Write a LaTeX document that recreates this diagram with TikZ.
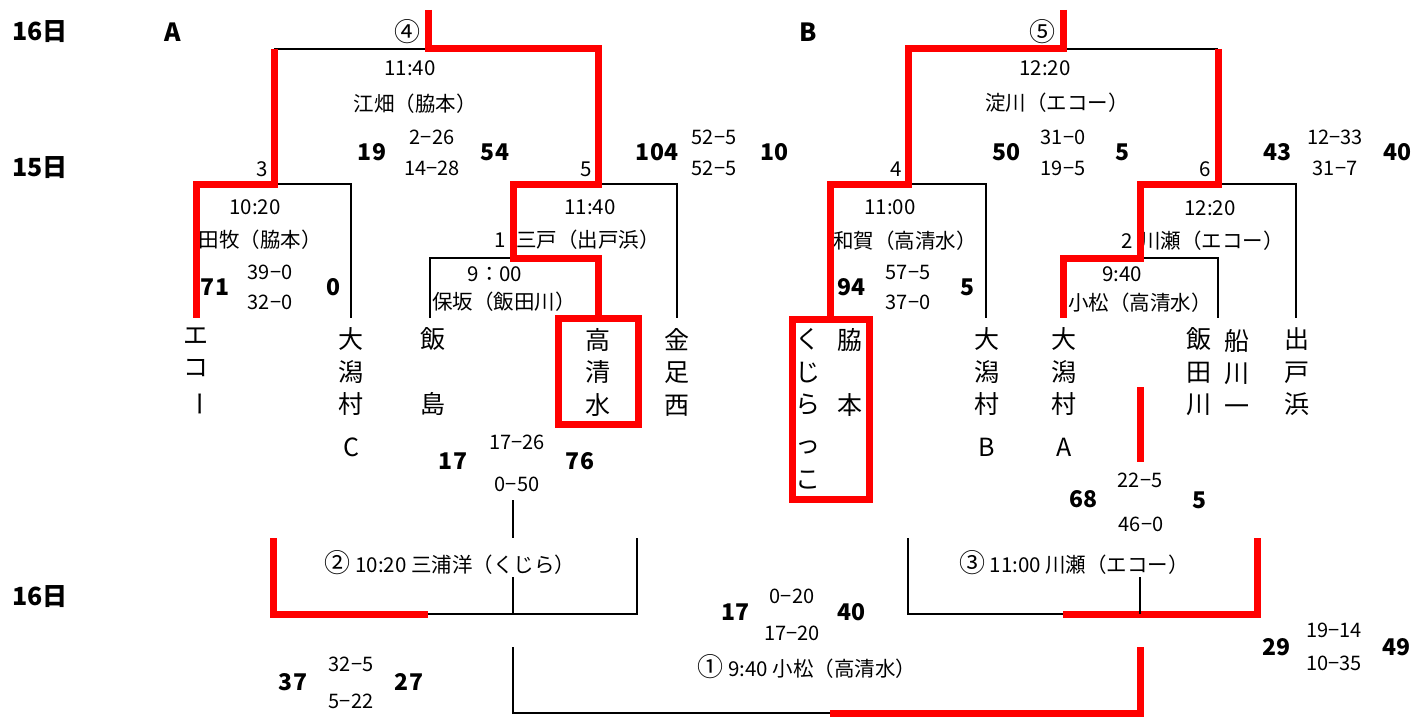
\documentclass[tikz,border=0pt]{standalone}
\usepackage{fontspec}
\setmainfont{Noto Sans CJK JP}
\usetikzlibrary{positioning}

\newcommand{\labfont}{\fontsize{20.5}{22}\selectfont}
\newcommand{\scorefont}{\fontsize{20}{22}\selectfont}
\newcommand{\ptsfont}{\fontsize{23}{25}\selectfont\bfseries}
\newcommand{\teamfont}{\fontsize{25}{32.5}\selectfont}
\newcommand{\dayfont}{\fontsize{25}{27}\selectfont\bfseries}
\newcommand{\tatebar}{\rotatebox[origin=c]{-90}{ー}}
\newcommand{\maru}[1]{{\fontsize{26}{26}\selectfont #1}}

\tikzstyle{line} = [draw,line width=2.2pt]
\tikzstyle{win} = [draw=red,line width=7pt,line join=miter]
\tikzstyle{winbox} = [draw=red,line width=7pt,inner sep=0pt]
\tikzstyle{lab} = [font=\labfont,inner sep=0pt]
\tikzstyle{score} = [font=\scorefont,inner sep=0pt]
\tikzstyle{pts} = [font=\ptsfont,inner sep=0pt]
\tikzstyle{team} = [font=\teamfont,align=center,inner sep=0pt]
\tikzstyle{day} = [font=\dayfont,inner sep=0pt]

\begin{document}
\begin{tikzpicture}[x=1pt,y=-1pt]
\useasboundingbox (0,0) rectangle (1414,717);

% days and blocks
\node[day] (d16a) at (40,32) {16日};
\node[day] (d15) at (40,168) {15日};
\node[day] (d16b) at (40,597) {16日};
\node[day,font=\fontsize{25}{27}\selectfont\bfseries] (blkA) at (173,32) {A};
\node[day,font=\fontsize{25}{27}\selectfont\bfseries] (blkB) at (808,32) {B};

% block A
\node[lab] (rA) at (407,32) {\maru{④}};
\node[lab] (tA) at (410,68) {11:40};
\node[lab] (vA) at (415,104) {江畑（脇本）};
\node[score] (sAa) at (432,137) {2−26};
\node[score] (sAb) at (432,168) {14−28};
\node[pts] (pAl) at (372,152) {19};
\node[pts] (pAr) at (495,152) {54};
\node[lab] (n3) at (262,169) {3};
\node[lab] (n5) at (586,169) {5};
\node[pts] (p5l) at (657,152) {104};
\node[score] (s5a) at (714,137) {52−5};
\node[score] (s5b) at (714,168) {52−5};
\node[pts] (p5r) at (774,152) {10};

\node[lab] (t3) at (255,207) {10:20};
\node[lab] (v3) at (260,240) {田牧（脇本）};
\node[pts] (p3l) at (215,287) {71};
\node[score] (s3a) at (270,272) {39−0};
\node[score] (s3b) at (270,302) {32−0};
\node[pts] (p3r) at (333,287) {0};

\node[lab] (t5) at (590,207) {11:40};
\node[lab] (n1) at (500,240) {1};
\node[lab] (v5) at (588,240) {三戸（出戸浜）};
\node[lab] (t1) at (495,274) {9：00};
\node[lab] (v1) at (504,302) {保坂（飯田川）};

\node[team] (eko) at (196,372) {エ\\コ\\\tatebar};
\node[team] (ogataC) at (351,372) {大\\潟\\村};
\node[team] (cC) at (351,447) {C};
\node[team] (iijima) at (433,372) {飯\\\phantom{飯}\\島};
\node[team] (taka) at (598,372) {高\\清\\水};
\node[team] (kana) at (677,372) {金\\足\\西};
\node[winbox,minimum width=80pt,minimum height=106pt] (takabox) at (598,371) {};

\node[score] (s1a) at (517,442) {17−26};
\node[pts] (p1l) at (453,461) {17};
\node[pts] (p1r) at (580,461) {76};
\node[score] (s1b) at (517,484) {0−50};

\coordinate (atop) at (428,10);
\coordinate (aM) at (428,49);
\coordinate (j3) at (274,184);
\coordinate (j5) at (598,184);
\coordinate (j1) at (513,258);
\coordinate (ekoT) at (196,318);
\coordinate (ogCT) at (351,318);
\coordinate (iiT) at (430,318);
\coordinate (kaT) at (677,318);

\draw[line] (aM) -- (j3 |- aM);
\draw[line] (j3) -| (ogCT);
\draw[line] (j5) -| (kaT);
\draw[line] (j1) -| (iiT);
\draw[win] (j3 |- aM) -- (j3) -| (ekoT);
\draw[win] (atop) -- (aM) -| (j5) -| (j1) -| (takabox.north);

% block B
\node[lab] (rB) at (1042,32) {\maru{⑤}};
\node[lab] (tB) at (1045,68) {12:20};
\node[lab] (vB) at (1057,103) {淀川（エコー）};
\node[score] (sBa) at (1063,137) {31−0};
\node[score] (sBb) at (1063,168) {19−5};
\node[pts] (pBl) at (1006,152) {50};
\node[pts] (pBr) at (1122,152) {5};
\node[lab] (n4) at (896,169) {4};
\node[lab] (n6) at (1205,169) {6};
\node[pts] (p6l) at (1277,152) {43};
\node[score] (s6a) at (1335,137) {12−33};
\node[score] (s6b) at (1335,168) {31−7};
\node[pts] (p6r) at (1397,152) {40};

\node[lab] (t4) at (890,207) {11:00};
\node[lab] (v4) at (905,241) {和賀（高清水）};
\node[pts] (p4l) at (851,287) {94};
\node[score] (s4a) at (908,272) {57−5};
\node[score] (s4b) at (908,302) {37−0};
\node[pts] (p4r) at (967,287) {5};

\node[lab] (t6) at (1210,208) {12:20};
\node[lab] (n2) at (1127,241) {2};
\node[lab] (v6) at (1212,241) {川瀬（エコー）};
\node[lab] (t2) at (1122,274) {9:40};
\node[lab] (v2) at (1140,303) {小松（高清水）};

\node[team] (kujira) at (808,372) {く\\じ\\ら};
\node[team] (kujira2) at (808,447) {っ};
\node[team] (kujira3) at (808,480) {こ};
\node[team] (waki) at (850,372) {脇\\\phantom{脇}\\本};
\node[winbox,minimum width=77pt,minimum height=180pt] (kujirabox) at (830.5,409) {};
\node[team] (ogataB) at (987,372) {大\\潟\\村};
\node[team] (bB) at (987,447) {B};
\node[team] (ogataA) at (1064,372) {大\\潟\\村};
\node[team] (aA) at (1064,447) {A};
\node[team] (iida) at (1199,372) {飯\\田\\川};
\node[team] (funa) at (1237,372) {船\\川\\一};
\node[team] (dete) at (1297,372) {出\\戸\\浜};

\node[score] (s2a) at (1140,480) {22−5};
\node[pts] (p2l) at (1083,499) {68};
\node[pts] (p2r) at (1199,500) {5};
\node[score] (s2b) at (1141,524) {46−0};

\coordinate (btop) at (1063,10);
\coordinate (bM) at (1063,49);
\coordinate (j4) at (908,184);
\coordinate (j6) at (1218,184);
\coordinate (j2) at (1140,258);
\coordinate (ogBT) at (986,318);
\coordinate (ogAT) at (1063,318);
\coordinate (iidT) at (1218,318);
\coordinate (deT) at (1296,318);
\coordinate (stubT) at (1140,387);
\coordinate (stubB) at (1140,462);

\draw[line] (bM) -- (j6 |- bM);
\draw[line] (j4) -| (ogBT);
\draw[line] (j6) -| (deT);
\draw[line] (j2) -| (iidT);
\draw[win] (btop) -- (bM) -| (j4) -| (kujirabox.north);
\draw[win] (j6 |- bM) -- (j6) -| (j2) -| (ogAT);
\draw[win] (stubT) -- (stubB);

% 16th, bottom
\node[lab] (l2) at (450,563) {\maru{②} 10:20 三浦洋（くじら）};
\node[lab] (l3) at (1074,563) {\maru{③} 11:00 川瀬（エコー）};
\node[lab] (l1) at (807,667) {\maru{①} 9:40 小松（高清水）};

\node[pts] (pFl) at (735,612) {17};
\node[score] (sFa) at (792,596) {0−20};
\node[pts] (pFr) at (851,612) {40};
\node[score] (sFb) at (792,633) {17−20};
\node[pts] (pSl) at (293,682) {37};
\node[score] (sSa) at (351,664) {32−5};
\node[score] (sSb) at (351,701) {5−22};
\node[pts] (pSr) at (409,682) {27};
\node[pts] (pTl) at (1276,647) {29};
\node[score] (sTa) at (1334,630) {19−14};
\node[score] (sTb) at (1334,663) {10−35};
\node[pts] (pTr) at (1396,647) {49};

\coordinate (q2top) at (513,500);
\coordinate (q2up) at (513,538);
\coordinate (q2lo) at (513,577);
\coordinate (q2) at (513,614);
\coordinate (q2L) at (273,538);
\coordinate (q2a) at (428,614);
\coordinate (q2R) at (637,538);
\coordinate (q3L) at (908,538);
\coordinate (q3a) at (1063,614);
\coordinate (q3R) at (1257,538);
\coordinate (q3lo) at (1140,577);
\coordinate (q3) at (1140,614);
\coordinate (q1L) at (513,647);
\coordinate (q1a) at (830,713);
\coordinate (q1R) at (1140,647);

\draw[line] (q2top) -- (q2up);
\draw[line] (q2lo) -- (q2);
\draw[win] (q2L) |- (q2a);
\draw[line] (q2a) -| (q2R);
\draw[line] (q3L) |- (q3a);
\draw[win] (q3a) -| (q3R);
\draw[line] (q3lo) -- (q3);
\draw[line] (q1L) |- (q1a);
\draw[win] (q1a) -| (q1R);
\end{tikzpicture}
\end{document}
